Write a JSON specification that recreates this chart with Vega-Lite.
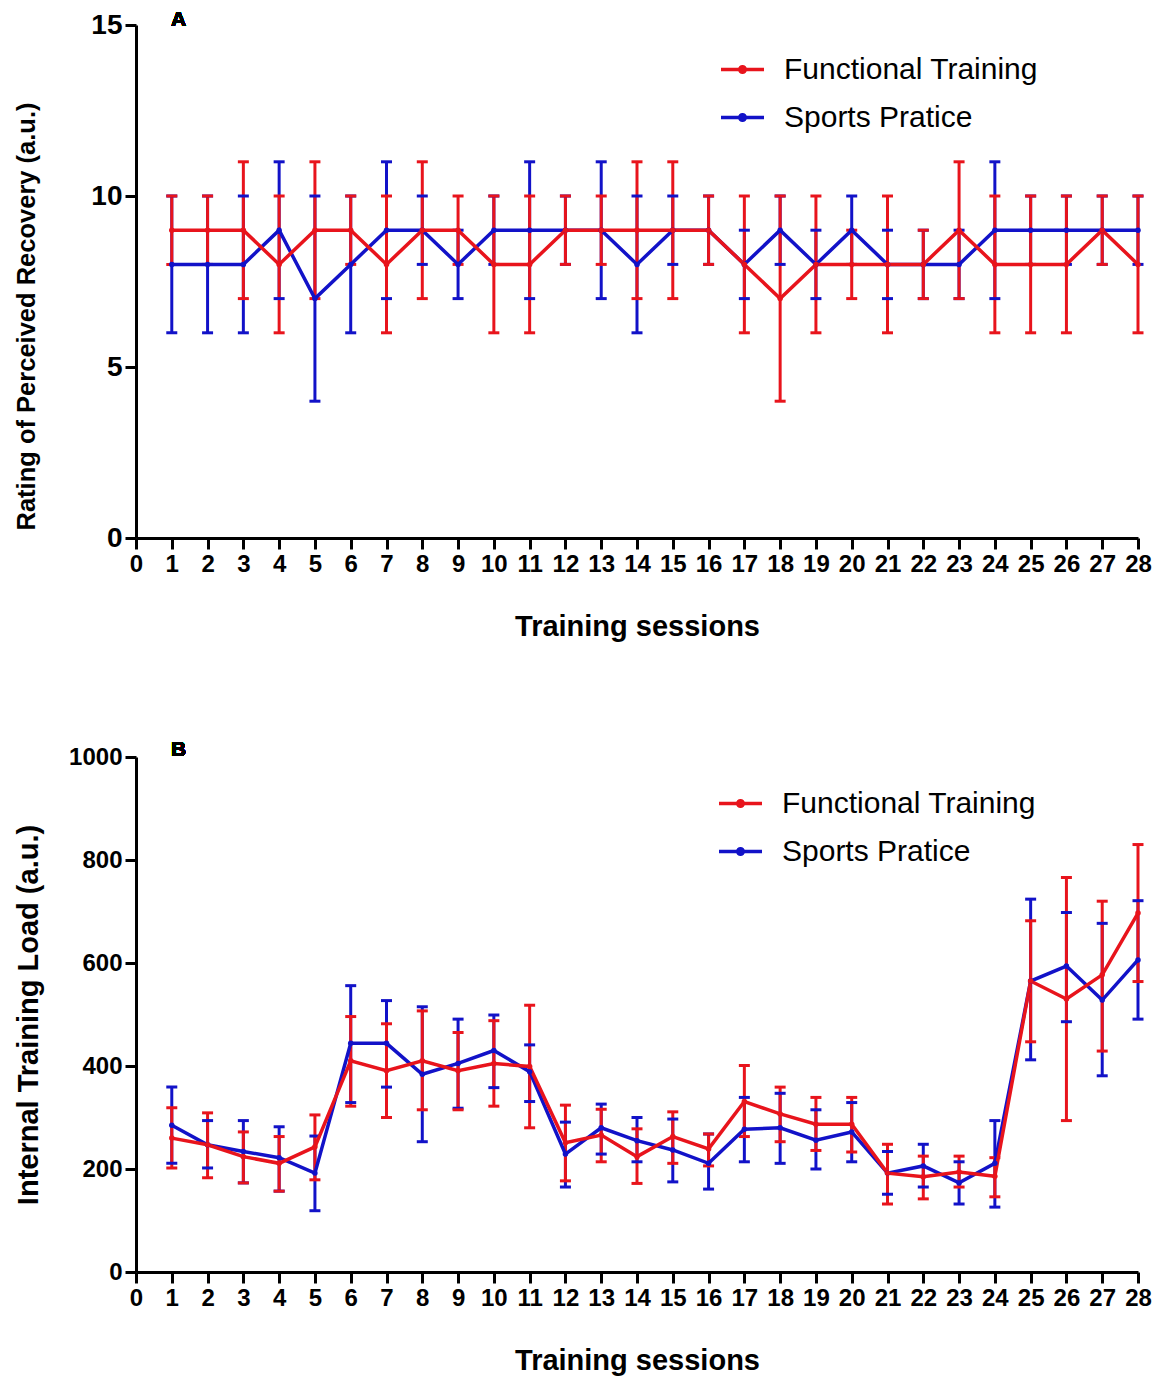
{
  "$schema": "https://vega.github.io/schema/vega-lite/v6.json",
  "padding": {"left": 14, "top": 8, "right": 5, "bottom": 5},
  "spacing": 98,
  "config": {
    "font": "Liberation Sans",
    "view": {"stroke": null},
    "tick": {"opacity": 1},
    "axis": {
      "grid": false,
      "domainColor": "black", "domainWidth": 3,
      "tickColor": "black", "tickWidth": 3, "tickSize": 11,
      "labelFont": "Liberation Sans", "labelFontWeight": "bold", "labelFontSize": 24, "labelColor": "black", "labelPadding": 3,
      "titleFont": "Liberation Sans", "titleFontWeight": "bold", "titleColor": "black"
    }
  },
  "resolve": {
    "scale": {"x": "independent", "y": "independent", "color": "independent"},
    "legend": {"color": "independent"}
  },
  "data": {"values": [
    {"p":"A","s":1,"g":"Sports Pratice","m":8,"lo":6,"hi":10},
    {"p":"A","s":2,"g":"Sports Pratice","m":8,"lo":6,"hi":10},
    {"p":"A","s":3,"g":"Sports Pratice","m":8,"lo":6,"hi":10},
    {"p":"A","s":4,"g":"Sports Pratice","m":9,"lo":7,"hi":11},
    {"p":"A","s":5,"g":"Sports Pratice","m":7,"lo":4,"hi":10},
    {"p":"A","s":6,"g":"Sports Pratice","m":8,"lo":6,"hi":10},
    {"p":"A","s":7,"g":"Sports Pratice","m":9,"lo":7,"hi":11},
    {"p":"A","s":8,"g":"Sports Pratice","m":9,"lo":8,"hi":10},
    {"p":"A","s":9,"g":"Sports Pratice","m":8,"lo":7,"hi":9},
    {"p":"A","s":10,"g":"Sports Pratice","m":9,"lo":8,"hi":10},
    {"p":"A","s":11,"g":"Sports Pratice","m":9,"lo":7,"hi":11},
    {"p":"A","s":12,"g":"Sports Pratice","m":9,"lo":8,"hi":10},
    {"p":"A","s":13,"g":"Sports Pratice","m":9,"lo":7,"hi":11},
    {"p":"A","s":14,"g":"Sports Pratice","m":8,"lo":6,"hi":10},
    {"p":"A","s":15,"g":"Sports Pratice","m":9,"lo":8,"hi":10},
    {"p":"A","s":16,"g":"Sports Pratice","m":9,"lo":8,"hi":10},
    {"p":"A","s":17,"g":"Sports Pratice","m":8,"lo":7,"hi":9},
    {"p":"A","s":18,"g":"Sports Pratice","m":9,"lo":8,"hi":10},
    {"p":"A","s":19,"g":"Sports Pratice","m":8,"lo":7,"hi":9},
    {"p":"A","s":20,"g":"Sports Pratice","m":9,"lo":8,"hi":10},
    {"p":"A","s":21,"g":"Sports Pratice","m":8,"lo":7,"hi":9},
    {"p":"A","s":22,"g":"Sports Pratice","m":8,"lo":7,"hi":9},
    {"p":"A","s":23,"g":"Sports Pratice","m":8,"lo":7,"hi":9},
    {"p":"A","s":24,"g":"Sports Pratice","m":9,"lo":7,"hi":11},
    {"p":"A","s":25,"g":"Sports Pratice","m":9,"lo":8,"hi":10},
    {"p":"A","s":26,"g":"Sports Pratice","m":9,"lo":8,"hi":10},
    {"p":"A","s":27,"g":"Sports Pratice","m":9,"lo":8,"hi":10},
    {"p":"A","s":28,"g":"Sports Pratice","m":9,"lo":8,"hi":10},
    {"p":"A","s":1,"g":"Functional Training","m":9,"lo":8,"hi":10},
    {"p":"A","s":2,"g":"Functional Training","m":9,"lo":8,"hi":10},
    {"p":"A","s":3,"g":"Functional Training","m":9,"lo":7,"hi":11},
    {"p":"A","s":4,"g":"Functional Training","m":8,"lo":6,"hi":10},
    {"p":"A","s":5,"g":"Functional Training","m":9,"lo":7,"hi":11},
    {"p":"A","s":6,"g":"Functional Training","m":9,"lo":8,"hi":10},
    {"p":"A","s":7,"g":"Functional Training","m":8,"lo":6,"hi":10},
    {"p":"A","s":8,"g":"Functional Training","m":9,"lo":7,"hi":11},
    {"p":"A","s":9,"g":"Functional Training","m":9,"lo":8,"hi":10},
    {"p":"A","s":10,"g":"Functional Training","m":8,"lo":6,"hi":10},
    {"p":"A","s":11,"g":"Functional Training","m":8,"lo":6,"hi":10},
    {"p":"A","s":12,"g":"Functional Training","m":9,"lo":8,"hi":10},
    {"p":"A","s":13,"g":"Functional Training","m":9,"lo":8,"hi":10},
    {"p":"A","s":14,"g":"Functional Training","m":9,"lo":7,"hi":11},
    {"p":"A","s":15,"g":"Functional Training","m":9,"lo":7,"hi":11},
    {"p":"A","s":16,"g":"Functional Training","m":9,"lo":8,"hi":10},
    {"p":"A","s":17,"g":"Functional Training","m":8,"lo":6,"hi":10},
    {"p":"A","s":18,"g":"Functional Training","m":7,"lo":4,"hi":10},
    {"p":"A","s":19,"g":"Functional Training","m":8,"lo":6,"hi":10},
    {"p":"A","s":20,"g":"Functional Training","m":8,"lo":7,"hi":9},
    {"p":"A","s":21,"g":"Functional Training","m":8,"lo":6,"hi":10},
    {"p":"A","s":22,"g":"Functional Training","m":8,"lo":7,"hi":9},
    {"p":"A","s":23,"g":"Functional Training","m":9,"lo":7,"hi":11},
    {"p":"A","s":24,"g":"Functional Training","m":8,"lo":6,"hi":10},
    {"p":"A","s":25,"g":"Functional Training","m":8,"lo":6,"hi":10},
    {"p":"A","s":26,"g":"Functional Training","m":8,"lo":6,"hi":10},
    {"p":"A","s":27,"g":"Functional Training","m":9,"lo":8,"hi":10},
    {"p":"A","s":28,"g":"Functional Training","m":8,"lo":6,"hi":10},
    {"p":"B","s":1,"g":"Sports Pratice","m":285,"lo":211,"hi":359},
    {"p":"B","s":2,"g":"Sports Pratice","m":247,"lo":202,"hi":294},
    {"p":"B","s":3,"g":"Sports Pratice","m":234,"lo":173,"hi":294},
    {"p":"B","s":4,"g":"Sports Pratice","m":222,"lo":157,"hi":282},
    {"p":"B","s":5,"g":"Sports Pratice","m":192,"lo":119,"hi":264},
    {"p":"B","s":6,"g":"Sports Pratice","m":444,"lo":329,"hi":556},
    {"p":"B","s":7,"g":"Sports Pratice","m":444,"lo":359,"hi":527},
    {"p":"B","s":8,"g":"Sports Pratice","m":384,"lo":253,"hi":515},
    {"p":"B","s":9,"g":"Sports Pratice","m":405,"lo":318,"hi":491},
    {"p":"B","s":10,"g":"Sports Pratice","m":430,"lo":358,"hi":499},
    {"p":"B","s":11,"g":"Sports Pratice","m":389,"lo":331,"hi":441},
    {"p":"B","s":12,"g":"Sports Pratice","m":229,"lo":165,"hi":291},
    {"p":"B","s":13,"g":"Sports Pratice","m":280,"lo":229,"hi":326},
    {"p":"B","s":14,"g":"Sports Pratice","m":255,"lo":214,"hi":300},
    {"p":"B","s":15,"g":"Sports Pratice","m":237,"lo":175,"hi":297},
    {"p":"B","s":16,"g":"Sports Pratice","m":211,"lo":161,"hi":268},
    {"p":"B","s":17,"g":"Sports Pratice","m":277,"lo":214,"hi":339},
    {"p":"B","s":18,"g":"Sports Pratice","m":280,"lo":211,"hi":347},
    {"p":"B","s":19,"g":"Sports Pratice","m":256,"lo":200,"hi":315},
    {"p":"B","s":20,"g":"Sports Pratice","m":272,"lo":214,"hi":329},
    {"p":"B","s":21,"g":"Sports Pratice","m":192,"lo":151,"hi":234},
    {"p":"B","s":22,"g":"Sports Pratice","m":206,"lo":165,"hi":248},
    {"p":"B","s":23,"g":"Sports Pratice","m":173,"lo":132,"hi":214},
    {"p":"B","s":24,"g":"Sports Pratice","m":211,"lo":126,"hi":294},
    {"p":"B","s":25,"g":"Sports Pratice","m":565,"lo":412,"hi":724},
    {"p":"B","s":26,"g":"Sports Pratice","m":594,"lo":486,"hi":698},
    {"p":"B","s":27,"g":"Sports Pratice","m":528,"lo":381,"hi":677},
    {"p":"B","s":28,"g":"Sports Pratice","m":606,"lo":491,"hi":721},
    {"p":"B","s":1,"g":"Functional Training","m":260,"lo":202,"hi":319},
    {"p":"B","s":2,"g":"Functional Training","m":247,"lo":183,"hi":309},
    {"p":"B","s":3,"g":"Functional Training","m":224,"lo":173,"hi":272},
    {"p":"B","s":4,"g":"Functional Training","m":211,"lo":157,"hi":263},
    {"p":"B","s":5,"g":"Functional Training","m":243,"lo":179,"hi":305},
    {"p":"B","s":6,"g":"Functional Training","m":410,"lo":322,"hi":496},
    {"p":"B","s":7,"g":"Functional Training","m":391,"lo":300,"hi":482},
    {"p":"B","s":8,"g":"Functional Training","m":410,"lo":315,"hi":507},
    {"p":"B","s":9,"g":"Functional Training","m":391,"lo":315,"hi":465},
    {"p":"B","s":10,"g":"Functional Training","m":405,"lo":322,"hi":488},
    {"p":"B","s":11,"g":"Functional Training","m":399,"lo":280,"hi":518},
    {"p":"B","s":12,"g":"Functional Training","m":251,"lo":177,"hi":324},
    {"p":"B","s":13,"g":"Functional Training","m":266,"lo":214,"hi":316},
    {"p":"B","s":14,"g":"Functional Training","m":224,"lo":172,"hi":278},
    {"p":"B","s":15,"g":"Functional Training","m":263,"lo":211,"hi":311},
    {"p":"B","s":16,"g":"Functional Training","m":239,"lo":206,"hi":268},
    {"p":"B","s":17,"g":"Functional Training","m":331,"lo":263,"hi":401},
    {"p":"B","s":18,"g":"Functional Training","m":307,"lo":253,"hi":359},
    {"p":"B","s":19,"g":"Functional Training","m":287,"lo":236,"hi":339},
    {"p":"B","s":20,"g":"Functional Training","m":287,"lo":233,"hi":339},
    {"p":"B","s":21,"g":"Functional Training","m":192,"lo":132,"hi":248},
    {"p":"B","s":22,"g":"Functional Training","m":185,"lo":142,"hi":225},
    {"p":"B","s":23,"g":"Functional Training","m":194,"lo":165,"hi":225},
    {"p":"B","s":24,"g":"Functional Training","m":186,"lo":146,"hi":222},
    {"p":"B","s":25,"g":"Functional Training","m":565,"lo":447,"hi":682},
    {"p":"B","s":26,"g":"Functional Training","m":530,"lo":294,"hi":766},
    {"p":"B","s":27,"g":"Functional Training","m":577,"lo":429,"hi":720},
    {"p":"B","s":28,"g":"Functional Training","m":697,"lo":564,"hi":830}
  ]},
  "vconcat": [
    {
      "width": 1002, "height": 513,
      "transform": [{"filter": "datum.p === 'A'"}],
      "encoding": {
        "x": {"field": "s", "type": "quantitative", "scale": {"domain": [0, 28], "nice": false},
              "axis": {"values": [0,1,2,3,4,5,6,7,8,9,10,11,12,13,14,15,16,17,18,19,20,21,22,23,24,25,26,27,28], "labelOverlap": false, "labelFlush": false, "labelFontSize": 24, "labelFontWeight": "bold", "title": "Training sessions", "titleFontSize": 29, "titlePadding": 36}},
        "color": {"field": "g", "type": "nominal", "scale": {"domain": ["Functional Training", "Sports Pratice"], "range": ["#e8141c", "#1212c8"]},
                  "legend": {"orient": "none", "legendX": 583, "legendY": 21, "title": null, "padding": 0,
                             "symbolType": "M-1,0H1M-0.13,0A0.13,0.13,0,1,1,0.13,0A0.13,0.13,0,1,1,-0.13,0",
                             "symbolSize": 1850, "symbolStrokeWidth": 3.5, "symbolOpacity": 1,
                             "labelFont": "Liberation Sans", "labelFontSize": 30, "labelColor": "black", "labelOffset": 18, "rowPadding": 9, "labelLimit": 400}}
      },
      "layer": [
        {
          "mark": {"type": "rule", "strokeWidth": 3},
          "encoding": {
            "y": {"field": "lo", "type": "quantitative", "scale": {"domain": [0, 15], "nice": false},
                  "axis": {"values": [0, 5, 10, 15], "labelFontSize": 28, "title": "Rating of Perceived Recovery (a.u.)", "titleFontSize": 25.5, "titlePadding": 51, "titleY": 291}},
            "y2": {"field": "hi"}
          }
        },
        {
          "transform": [{"fold": ["lo", "hi"], "as": ["k", "v"]}],
          "mark": {"type": "tick", "orient": "horizontal", "size": 11, "thickness": 3, "opacity": 1},
          "encoding": {
            "y": {"field": "v", "type": "quantitative", "title": "Rating of Perceived Recovery (a.u.)"}
          }
        },
        {
          "mark": {"type": "line", "strokeWidth": 3.5},
          "encoding": {
            "y": {"field": "m", "type": "quantitative", "title": "Rating of Perceived Recovery (a.u.)"}
          }
        },
        {
          "mark": {"type": "point", "filled": true, "size": 30, "opacity": 1},
          "encoding": {
            "y": {"field": "m", "type": "quantitative", "title": "Rating of Perceived Recovery (a.u.)"}
          }
        },
        {
          "mark": {"type": "text", "fontWeight": "bold", "fontSize": 21, "align": "left", "baseline": "middle", "fill": "black", "font": "Liberation Sans"},
          "encoding": {
            "x": {"datum": 0.98, "type": "quantitative"},
            "y": {"datum": 15.15, "type": "quantitative"},
            "text": {"value": "A"},
            "color": {"value": "black"}
          }
        }
      ]
    },
    {
      "width": 1002, "height": 515,
      "transform": [{"filter": "datum.p === 'B'"}],
      "encoding": {
        "x": {"field": "s", "type": "quantitative", "scale": {"domain": [0, 28], "nice": false},
              "axis": {"values": [0,1,2,3,4,5,6,7,8,9,10,11,12,13,14,15,16,17,18,19,20,21,22,23,24,25,26,27,28], "labelOverlap": false, "labelFlush": false, "labelFontSize": 24, "labelFontWeight": "bold", "title": "Training sessions", "titleFontSize": 29, "titlePadding": 36}},
        "color": {"field": "g", "type": "nominal", "scale": {"domain": ["Functional Training", "Sports Pratice"], "range": ["#e8141c", "#1212c8"]},
                  "legend": {"orient": "none", "legendX": 581, "legendY": 23, "title": null, "padding": 0,
                             "symbolType": "M-1,0H1M-0.13,0A0.13,0.13,0,1,1,0.13,0A0.13,0.13,0,1,1,-0.13,0",
                             "symbolSize": 1850, "symbolStrokeWidth": 3.5, "symbolOpacity": 1,
                             "labelFont": "Liberation Sans", "labelFontSize": 30, "labelColor": "black", "labelOffset": 18, "rowPadding": 9, "labelLimit": 400}}
      },
      "layer": [
        {
          "mark": {"type": "rule", "strokeWidth": 3},
          "encoding": {
            "y": {"field": "lo", "type": "quantitative", "scale": {"domain": [0, 1000], "nice": false},
                  "axis": {"values": [0, 200, 400, 600, 800, 1000], "format": "d", "labelFontSize": 24, "title": "Internal Training Load (a.u.)", "titleFontSize": 29, "titlePadding": 25}},
            "y2": {"field": "hi"}
          }
        },
        {
          "transform": [{"fold": ["lo", "hi"], "as": ["k", "v"]}],
          "mark": {"type": "tick", "orient": "horizontal", "size": 11, "thickness": 3, "opacity": 1},
          "encoding": {
            "y": {"field": "v", "type": "quantitative", "title": "Internal Training Load (a.u.)"}
          }
        },
        {
          "mark": {"type": "line", "strokeWidth": 3.5},
          "encoding": {
            "y": {"field": "m", "type": "quantitative", "title": "Internal Training Load (a.u.)"}
          }
        },
        {
          "mark": {"type": "point", "filled": true, "size": 30, "opacity": 1},
          "encoding": {
            "y": {"field": "m", "type": "quantitative", "title": "Internal Training Load (a.u.)"}
          }
        },
        {
          "mark": {"type": "text", "fontWeight": "bold", "fontSize": 21, "align": "left", "baseline": "middle", "fill": "black", "font": "Liberation Sans"},
          "encoding": {
            "x": {"datum": 0.98, "type": "quantitative"},
            "y": {"datum": 1013, "type": "quantitative"},
            "text": {"value": "B"},
            "color": {"value": "black"}
          }
        }
      ]
    }
  ]
}
